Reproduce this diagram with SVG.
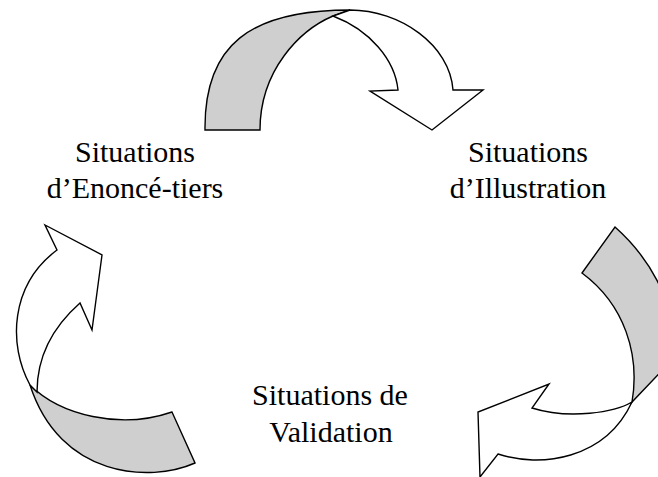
<svg xmlns="http://www.w3.org/2000/svg" width="658" height="477" viewBox="0 0 658 477">
<style>
.back{fill:#cfcfcf;stroke:#000;stroke-width:1.4;stroke-linejoin:miter}
.front{fill:#fff;stroke:#000;stroke-width:1.4;stroke-linejoin:miter}
.lbl{font-family:"Liberation Serif","Times New Roman",serif;font-size:30px;fill:#000;text-anchor:middle}
</style>
<rect width="658" height="477" fill="#fff"/>
<g id="connectors">
  <g id="arrow-top">
    <path class="back" d="M205,130 C204,45 250,10 350,10 L333,16 C300,30 260,70 260,130 Z"/>
    <path class="front" d="M350,10 C400,10 450,45 453,90 L483,90 L432,130 L370,91 L398,90 C395,60 370,30 333,16 Z"/>
  </g>
  <g id="arrow-right">
    <path class="back" d="M582,273 L615,227 C650,258 672,300 674,340 L672,360 L632,402 C640,355 625,305 582,273 Z"/>
    <path class="front" d="M632,402 C615,412 570,420 532,408 L549,384 L478,412 L480,477 L498,454 C540,468 605,460 632,402 Z"/>
  </g>
  <g id="arrow-left">
    <path class="back" d="M30,385 C60,415 120,430 172,412 L195,463 C150,483 60,478 30,385 Z"/>
    <path class="front" d="M30,385 C8,345 10,285 57,250 L45,225 L102,255 L92,330 L80,303 C55,325 37,355 37,392 Z"/>
  </g>
</g>
<g id="node-enonce">
  <text class="lbl" x="135" y="162">Situations</text>
  <text class="lbl" x="135" y="198">d’Enoncé-tiers</text>
</g>
<g id="node-illustration">
  <text class="lbl" x="528" y="162">Situations</text>
  <text class="lbl" x="528" y="198">d’Illustration</text>
</g>
<g id="node-validation">
  <text class="lbl" x="330" y="405">Situations de</text>
  <text class="lbl" x="331" y="442">Validation</text>
</g>
</svg>
